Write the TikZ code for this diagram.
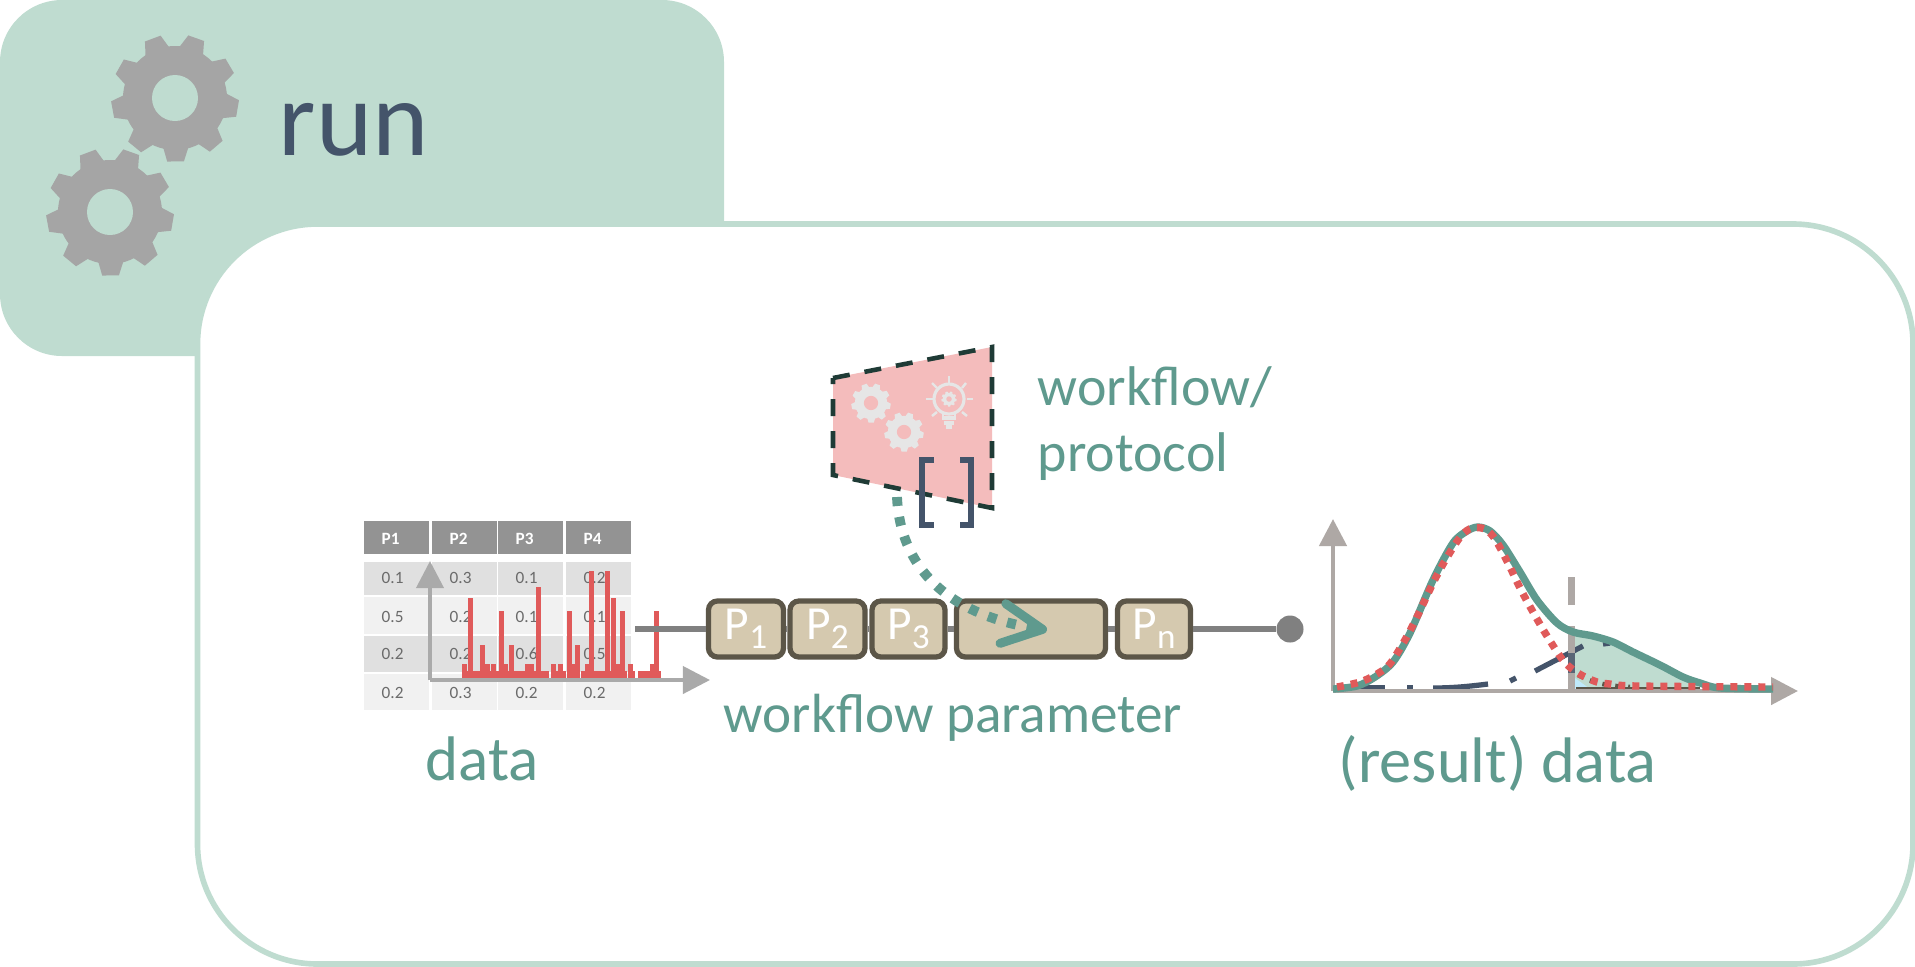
\documentclass[tikz,border=0pt]{standalone}
\usepackage{fontspec}
\usepackage{xcolor}
\usepackage{tikz}
\usetikzlibrary{arrows.meta}
\setmainfont{Carlito}

\definecolor{tabgreen}{HTML}{BFDCD0}
\definecolor{tealtext}{HTML}{5F9A8E}
\definecolor{slateblue}{HTML}{44546A}
\definecolor{geargray}{HTML}{A5A5A5}
\definecolor{pinkbox}{HTML}{F4BCBC}
\definecolor{palegear}{HTML}{E6E6E6}
\definecolor{darkdash}{HTML}{1F3B36}
\definecolor{headcell}{HTML}{939393}
\definecolor{rowdark}{HTML}{E0E0E0}
\definecolor{rowlight}{HTML}{F1F1F1}
\definecolor{celltext}{HTML}{6B6B6B}
\definecolor{spikered}{HTML}{E05A5A}
\definecolor{axisgray}{HTML}{AAAAAA}
\definecolor{plotgray}{HTML}{AEA8A5}
\definecolor{wfgray}{HTML}{808080}
\definecolor{pfill}{HTML}{D5C9AF}
\definecolor{pborder}{HTML}{5C5648}

\newcommand{\psub}[1]{P\raisebox{-0.4ex}{\fontsize{10}{10}\selectfont #1}}

\tikzset{
    label text/.style={text=tealtext, inner sep=0pt, anchor=base west, font=\fontsize{#1}{#1}\selectfont},
    cell text/.style={text=celltext, inner sep=0pt, anchor=west, font=\fontsize{4.9}{5}\selectfont},
    head text/.style={text=white, inner sep=0pt, anchor=west, font=\fontsize{4.9}{5}\selectfont\bfseries},
    pbox/.style={draw=pborder, fill=pfill, line width=1.5pt, rounded corners=0.09cm, minimum height=0.56cm, minimum width=#1, inner sep=0pt, text=white, font=\fontsize{13.5}{14}\selectfont},
    wfline/.style={draw=wfgray, line width=1.7pt},
    data axis/.style={draw=axisgray, line width=1.1pt, -{Triangle[length=0.27cm,width=0.27cm]}},
    plot axis/.style={draw=plotgray, line width=1.3pt, -{Triangle[length=0.27cm,width=0.27cm]}},
    blue piece/.style={draw=slateblue, line width=1.5pt},
    bulb line/.style={draw=palegear, line width=0.7pt},
    pics/gearwheel/.style 2 args={code={
        \fill[#1] (0,0) circle (52);
        \foreach \a in {-30,10,...,290}
            \fill[#1] (\a-16:50) -- (\a-8:64) -- (\a+7:64) -- (\a+14:50) -- cycle;
        \fill[#2] (0,0) circle (23);
    }}
}

\begin{document}
\begin{tikzpicture}[x=0.01cm,y=-0.01cm]
    \useasboundingbox (0,0) rectangle (1915,966);

    % Run tab
    \fill[tabgreen, rounded corners=0.62cm] (0,0) rectangle (724,356);
    \pic at (175,98) {gearwheel={geargray}{tabgreen}};
    \pic at (110,212) {gearwheel={geargray}{tabgreen}};
    \node[text=slateblue, inner sep=0pt, anchor=base west, font=\fontsize{30.5}{31}\selectfont] (runlabel) at (278,155) {run};

    % Main box
    \draw[tabgreen, fill=white, line width=1.6pt, rounded corners=1.2cm] (197.5,224) rectangle (1913,964);

    % Table
    \foreach \ytop/\hgt/\shade/\ytxt/\vals [count=\r] in {
        562/33/rowdark/578/{0.1,0.3,0.1,0.2},
        597/37/rowlight/617/{0.5,0.2,0.1,0.1},
        636/36/rowdark/654/{0.2,0.2,0.6,0.5},
        674/36/rowlight/693/{0.2,0.3,0.2,0.2}} {
        \foreach \val [count=\c] in \vals {
            \pgfmathsetmacro\cx{{364,432,498,566}[\c-1]}
            \fill[\shade] (\cx,\ytop) rectangle ++(65,\hgt);
            \node[cell text, xshift=0.17cm] (v\r\c) at (\cx,\ytxt) {\val};
        }
    }
    \foreach \cx/\head in {364/P1,432/P2,498/P3,566/P4} {
        \fill[headcell] (\cx,521) rectangle ++(65,33);
        \node[head text, xshift=0.17cm] (h\head) at (\cx,539) {\head};
    }

    % Data axes
    \coordinate (dataorg) at (430,680);
    \coordinate (datay) at (430,561);
    \coordinate (datax) at (710,680);
    \draw[data axis] (dataorg) -- (datay);
    \draw[data axis] (dataorg) -- (datax);

    % Spikes
    \foreach \xa/\xb in {462/549,551/566,567.3/580,581/626.7,628.3/635,637.7/661}
        \fill[spikered] (\xa,670.7) rectangle (\xb,678.3);
    \foreach \xs/\ys in {464.3/664.3,470.3/598.3,482.3/645.3,487.7/664.3,493.3/664.3,501.3/611.3,505.7/664.3,511.3/645.3,
        527.7/664.3,531.7/664.3,538.3/587.3,553.7/664.3,560.3/664.3,569.3/611.3,573.3/664.3,577.3/645.3,587.7/664.3,
        591.7/571.3,607.7/571.3,613.3/598.3,618.3/664.3,622.3/611.3,630.3/664.3,652.3/664.3,656.3/611.3}
        \fill[spikered] (\xs-2.5,\ys) rectangle (\xs+2.5,678.3);

    % Workflow parameter chain
    \coordinate (wfstart) at (635,629);
    \node[pbox=0.75cm] (p1) at (746,629) {\psub{1}};
    \node[pbox=0.75cm] (p2) at (827.5,629) {\psub{2}};
    \node[pbox=0.73cm] (p3) at (908.5,629) {\psub{3}};
    \node[pbox=1.49cm] (pbig) at (1031,629) {};
    \node[pbox=0.73cm] (pn) at (1154,629) {\psub{n}};
    \node[circle, fill=wfgray, minimum size=0.27cm, inner sep=0pt] (wfend) at (1290,629) {};
    \draw[wfline] (wfstart) -- (p1);
    \draw[wfline] (p1) -- (p2);
    \draw[wfline] (p2) -- (p3);
    \draw[wfline] (p3) -- (pbig);
    \draw[wfline] (pbig) -- (pn);
    \draw[wfline] (pn) -- (wfend);

    % Protocol shape
    \fill[pinkbox] (833,378) -- (992,347) -- (992,508) -- (833,475) -- cycle;
    \draw[darkdash, line width=1.3pt, dash pattern=on 0.17cm off 0.15cm] (833,378) -- (992,347) -- (992,508) -- (833,475) -- cycle;
    \pic[scale=0.31] at (871,403) {gearwheel={palegear}{pinkbox}};
    \pic[scale=0.31] at (904,432) {gearwheel={palegear}{pinkbox}};

    % Bulb
    \draw[bulb line, line width=0.9pt] (949,399) circle (15);
    \draw[bulb line] (943,413) -- (943,417) (955,413) -- (955,417);
    \pic[scale=0.12] at (949,399) {gearwheel={palegear}{pinkbox}};
    \draw[bulb line, line width=1pt] (942,418) -- (956,418) (944,423) -- (954,423) (946,427) -- (952,427);
    \foreach \xa/\ya/\xb/\yb in {949/376/949/383,932/383/937/388,966/383/962/388,926/399/933/399,
        967/399/973/399,932/416/937/412,967/416/962/412}
        \draw[bulb line] (\xa,\ya) -- (\xb,\yb);

    % Bracket
    \draw[slateblue, line width=1.5pt] (934,460) -- (922,460) -- (922,525) -- (934,525);
    \draw[slateblue, line width=1.5pt] (960,460) -- (971,460) -- (971,525) -- (960,525);

    % Dotted link
    \coordinate (linkstart) at (897,497);
    \coordinate (linkend) at (1047,630);
    \draw[tealtext, line width=2.8pt, dash pattern=on 0.09cm off 0.11cm, -{Straight Barb[length=0.4cm,width=0.4cm,line width=0.09cm,round]}]
        (linkstart) .. controls (900,565) and (945,615) .. (linkend);

    % Result plot
    \fill[tabgreen] (1573,632) -- (1593,636) -- (1613,642) -- (1633,652) -- (1660,665) -- (1683,677) -- (1700,688) -- (1573,688) -- cycle;
    \fill[cyan!25] (1575,678) -- (1590,689) -- (1575,689) -- cycle;
    \draw[pborder, line width=0.3pt] (1576,688) -- (1700,688);
    \draw[pborder, line width=1.3pt, dash pattern=on 0.05cm off 0.08cm] (1578,675) .. controls (1595,684) and (1610,686) .. (1630,687);
    \foreach \xa/\ya/\xb/\yb in {1353/688/1385/688,1407/688/1413/688,1510/681/1516/678,1535/671/1583/646,1603/644/1610/643}
        \draw[blue piece] (\xa,\ya) -- (\xb,\yb);
    \draw[blue piece] (1433,688) .. controls (1455,688) and (1472,686) .. (1488,684);
    \draw[plotgray, line width=2pt] (1571,691) -- (1571,626);
    \draw[plotgray, line width=2pt] (1571,605) -- (1571,577);
    \draw[slateblue!80!plotgray, line width=2pt] (1571,653) -- (1571,673);
    \coordinate (plotorg) at (1333,691);
    \coordinate (ploty) at (1333,519);
    \coordinate (plotx) at (1798,691);
    \draw[plot axis] (plotorg) -- (ploty);
    \draw[plot axis] (plotorg) -- (plotx);
    \draw[tealtext, line width=2.1pt] plot[smooth, tension=0.5] coordinates {(1333,689) (1357,686) (1375,677) (1393,662) (1410,633) (1433,580) (1453,543) (1467,531) (1478,527) (1490,531) (1503,545) (1520,572) (1537,600) (1557,623) (1573,632) (1593,636) (1613,642) (1633,652) (1660,665) (1683,677) (1700,683) (1720,688) (1773,689)};
    \draw[spikered, line width=2.1pt, dash pattern=on 0.07cm off 0.07cm] plot[smooth, tension=0.5] coordinates {(1337,687) (1363,681) (1387,667) (1402,645) (1415,621) (1433,583) (1446,559) (1461,536) (1472,528) (1485,529) (1495,539) (1508,563) (1520,588) (1533,612) (1547,636) (1562,659) (1572,669) (1583,676) (1597,682) (1610,684) (1637,686) (1773,687)};

    % Labels
    \node[label text=15.9] (wflabel) at (1037,405) {workflow/};
    \node[label text=15.9] (protolabel) at (1037,471) {protocol};
    \node[label text=15.7] (paramlabel) at (723,732) {workflow parameter};
    \node[label text=17.9] (datalabel) at (425,780) {data};
    \node[label text=18.3] (resultlabel) at (1338,782) {(result) data};
\end{tikzpicture}
\end{document}
